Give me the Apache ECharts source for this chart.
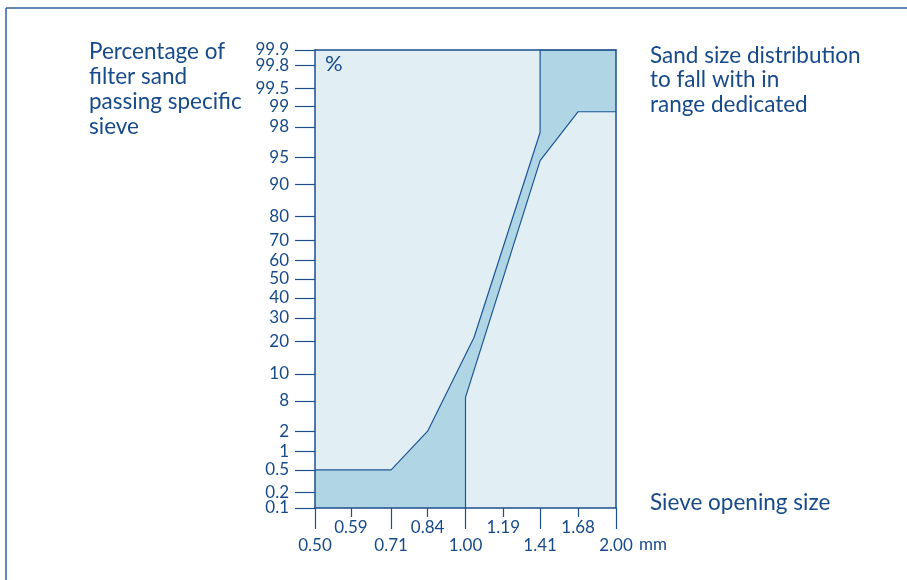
<!DOCTYPE html>
<html>
<head>
<meta charset="utf-8">
<script src="https://cdn.jsdelivr.net/npm/echarts@6/dist/echarts.min.js"></script>
<style>
html,body{margin:0;padding:0;background:#fff;}
#c{width:907px;height:580px;}
</style>
</head>
<body>
<div id="c"></div>
<script>
// ---- Data ----
// Y axis (percentage passing) tick values and the labels printed beside them
var yTickValues = [0.1, 0.2, 0.5, 1, 2, 5, 10, 20, 30, 40, 50, 60, 70, 80, 90, 95, 98, 99, 99.5, 99.8, 99.9];
var yTickLabels = ['0.1', '0.2', '0.5', '1', '2', '8', '10', '20', '30', '40', '50', '60', '70', '80', '90', '95', '98', '99', '99.5', '99.8', '99.9'];
// X axis (sieve opening, mm) tick values
var xUpperTicks = [0.59, 0.84, 1.19, 1.68];
var xLowerTicks = [0.50, 0.71, 1.00, 1.41, 2.00];
// Upper (fine) boundary of the dedicated range
var upperSize = [0.50, 0.71, 0.84, 1.04, 1.41, 1.41, 2.00];
var upperPct  = [0.5, 0.5, 2, 21.5, 97.6, 99.9, 99.9];
// Lower (coarse) boundary of the dedicated range
var lowerSize = [1.00, 1.00, 1.41, 1.68, 2.00];
var lowerPct  = [0.1, 5.5, 94.5, 98.8, 98.8];

// ---- Scales: probability (probit) for Y, log2 for X ----
function probit(p) {
  var a = [-3.969683028665376e+01, 2.209460984245205e+02, -2.759285104469687e+02, 1.383577518672690e+02, -3.066479806614716e+01, 2.506628277459239e+00];
  var b = [-5.447609879822406e+01, 1.615858368580409e+02, -1.556989798598866e+02, 6.680131188771972e+01, -1.328068155288572e+01];
  var c = [-7.784894002430293e-03, -3.223964580411365e-01, -2.400758277161838e+00, -2.549732539343734e+00, 4.374664141464968e+00, 2.938163982698783e+00];
  var d = [7.784695709041462e-03, 3.224671290700398e-01, 2.445134137142996e+00, 3.754408661907416e+00];
  var pl = 0.02425, q, r;
  if (p < pl) {
    q = Math.sqrt(-2 * Math.log(p));
    return (((((c[0]*q+c[1])*q+c[2])*q+c[3])*q+c[4])*q+c[5]) / ((((d[0]*q+d[1])*q+d[2])*q+d[3])*q+1);
  } else if (p <= 1 - pl) {
    q = p - 0.5; r = q*q;
    return (((((a[0]*r+a[1])*r+a[2])*r+a[3])*r+a[4])*r+a[5])*q / (((((b[0]*r+b[1])*r+b[2])*r+b[3])*r+b[4])*r+1);
  } else {
    q = Math.sqrt(-2 * Math.log(1 - p));
    return -(((((c[0]*q+c[1])*q+c[2])*q+c[3])*q+c[4])*q+c[5]) / ((((d[0]*q+d[1])*q+d[2])*q+d[3])*q+1);
  }
}
function yT(pct) { return probit(pct / 100); }
function xT(mm) { return Math.log(mm) / Math.LN2; }

var EPS = 1e-6;
var yMin = yT(0.1) - EPS, yMax = yT(99.9) + EPS;
var yTicksT = yTickValues.map(yT);
var yEvenT = yTicksT.filter(function (v, i) { return i % 2 === 0; });
var yOddT = yTicksT.filter(function (v, i) { return i % 2 === 1; });
var xUpperT = xUpperTicks.map(xT);
var xLowerT = xLowerTicks.map(xT);

var upperLine = upperSize.map(function (s, i) { return [xT(s), yT(upperPct[i])]; });
var lowerLine = lowerSize.map(function (s, i) { return [xT(s), yT(lowerPct[i])]; });
// Band polygon: from bottom-left corner along the upper boundary, then back along the lower boundary
var band = [[xT(0.50), yT(0.1)]].concat(upperLine).concat(lowerLine.slice().reverse());

function nearestLabel(v, vals, labels) {
  var best = 0, bd = Infinity;
  for (var i = 0; i < vals.length; i++) { var dd = Math.abs(vals[i] - v); if (dd < bd) { bd = dd; best = i; } }
  return labels[best];
}

var TXT = '#174a8a';
var AX = '#1c4f8e';
var FONT = 'Lato, "Open Sans", sans-serif';

function yLabelAxis(values, showLine, showTick) {
  return {
    type: 'value', min: yMin, max: yMax, position: 'left', z: 10,
    axisLine: { show: showLine, onZero: false, lineStyle: { color: AX, width: 1.5 } },
    axisTick: { show: showTick, length: 20, customValues: yTicksT, lineStyle: { color: AX, width: 1.2 } },
    axisLabel: {
      customValues: values, margin: 26, color: TXT, fontSize: 17, fontFamily: FONT,
      showMinLabel: true, showMaxLabel: true, hideOverlap: false,
      formatter: function (v) { return nearestLabel(v, yTicksT, yTickLabels); }
    },
    splitLine: { show: false }
  };
}

var chart = echarts.init(document.getElementById('c'), null, { renderer: 'canvas' });
chart.setOption({
  animation: false,
  backgroundColor: '#ffffff',
  grid: {
    left: 315, top: 50, width: 301, height: 458,
    show: true, backgroundColor: '#e1eef4', borderWidth: 0
  },
  xAxis: [
    { // lower row labels, long ticks
      type: 'value', min: -1 - EPS, max: 1 + EPS, position: 'bottom', z: 10,
      axisLine: { show: true, onZero: false, lineStyle: { color: AX, width: 1.5 } },
      axisTick: { show: true, length: 21, customValues: xLowerT, lineStyle: { color: AX, width: 1.2 } },
      axisLabel: {
        customValues: xLowerT, margin: 29, color: TXT, fontSize: 17, fontFamily: FONT,
        showMinLabel: true, showMaxLabel: true, hideOverlap: false,
        formatter: function (v) { return nearestLabel(v, xLowerT, xLowerTicks.map(function (t) { return t.toFixed(2); })); }
      },
      splitLine: { show: false }
    },
    { // upper row labels, short ticks
      type: 'value', min: -1 - EPS, max: 1 + EPS, position: 'bottom', z: 10,
      axisLine: { show: false, onZero: false },
      axisTick: { show: true, length: 9, customValues: xUpperT, lineStyle: { color: AX, width: 1.2 } },
      axisLabel: {
        customValues: xUpperT, margin: 11, color: TXT, fontSize: 17, fontFamily: FONT,
        formatter: function (v) { return nearestLabel(v, xUpperT, xUpperTicks.map(function (t) { return t.toFixed(2); })); }
      },
      splitLine: { show: false }
    },
    { // top border
      type: 'value', min: -1 - EPS, max: 1 + EPS, position: 'top', z: 10,
      axisLine: { show: true, onZero: false, lineStyle: { color: AX, width: 1.5 } },
      axisTick: { show: false }, axisLabel: { show: false }, splitLine: { show: false }
    }
  ],
  yAxis: [
    yLabelAxis(yEvenT, true, true),
    yLabelAxis(yOddT, false, false),
    { // right border
      type: 'value', min: yMin, max: yMax, position: 'right', z: 10,
      axisLine: { show: true, onZero: false, lineStyle: { color: AX, width: 1.5 } },
      axisTick: { show: false }, axisLabel: { show: false }, splitLine: { show: false }
    }
  ],
  series: [
    {
      type: 'custom', z: 1, silent: true,
      data: [0],
      renderItem: function (params, api) {
        var pts = band.map(function (p) { return api.coord(p); });
        return { type: 'polygon', shape: { points: pts }, style: { fill: '#b0d6e5', stroke: 'none' } };
      }
    },
    {
      type: 'line', z: 3, data: upperLine, symbol: 'none', silent: true,
      lineStyle: { color: '#1d5595', width: 1.2 }
    },
    {
      type: 'line', z: 3, data: lowerLine, symbol: 'none', silent: true,
      lineStyle: { color: '#1d5595', width: 1.2 }
    }
  ],
  graphic: [
    { type: 'line', shape: { x1: 6, y1: 8, x2: 907, y2: 8 }, style: { stroke: '#2f609f', lineWidth: 1.5 } },
    { type: 'line', shape: { x1: 6, y1: 8, x2: 6, y2: 580 }, style: { stroke: '#2f609f', lineWidth: 1.5 } },
    { type: 'text', left: 89, top: 39, style: { text: 'Percentage of\nfilter sand\npassing specific\nsieve', fill: TXT, font: '22.5px ' + FONT, lineHeight: 25 } },
    { type: 'text', left: 650, top: 43, style: { text: 'Sand size distribution\nto fall with in\nrange dedicated', fill: TXT, font: '22.5px ' + FONT, lineHeight: 24.5 } },
    { type: 'text', left: 650, top: 491, style: { text: 'Sieve opening size', fill: TXT, font: '22.5px ' + FONT } },
    { type: 'text', left: 325, top: 53, z: 20, style: { text: '%', fill: TXT, font: '22px ' + FONT } },
    { type: 'text', left: 639, top: 536, style: { text: 'mm', fill: TXT, font: '17px ' + FONT } }
  ]
});
</script>
</body>
</html>
